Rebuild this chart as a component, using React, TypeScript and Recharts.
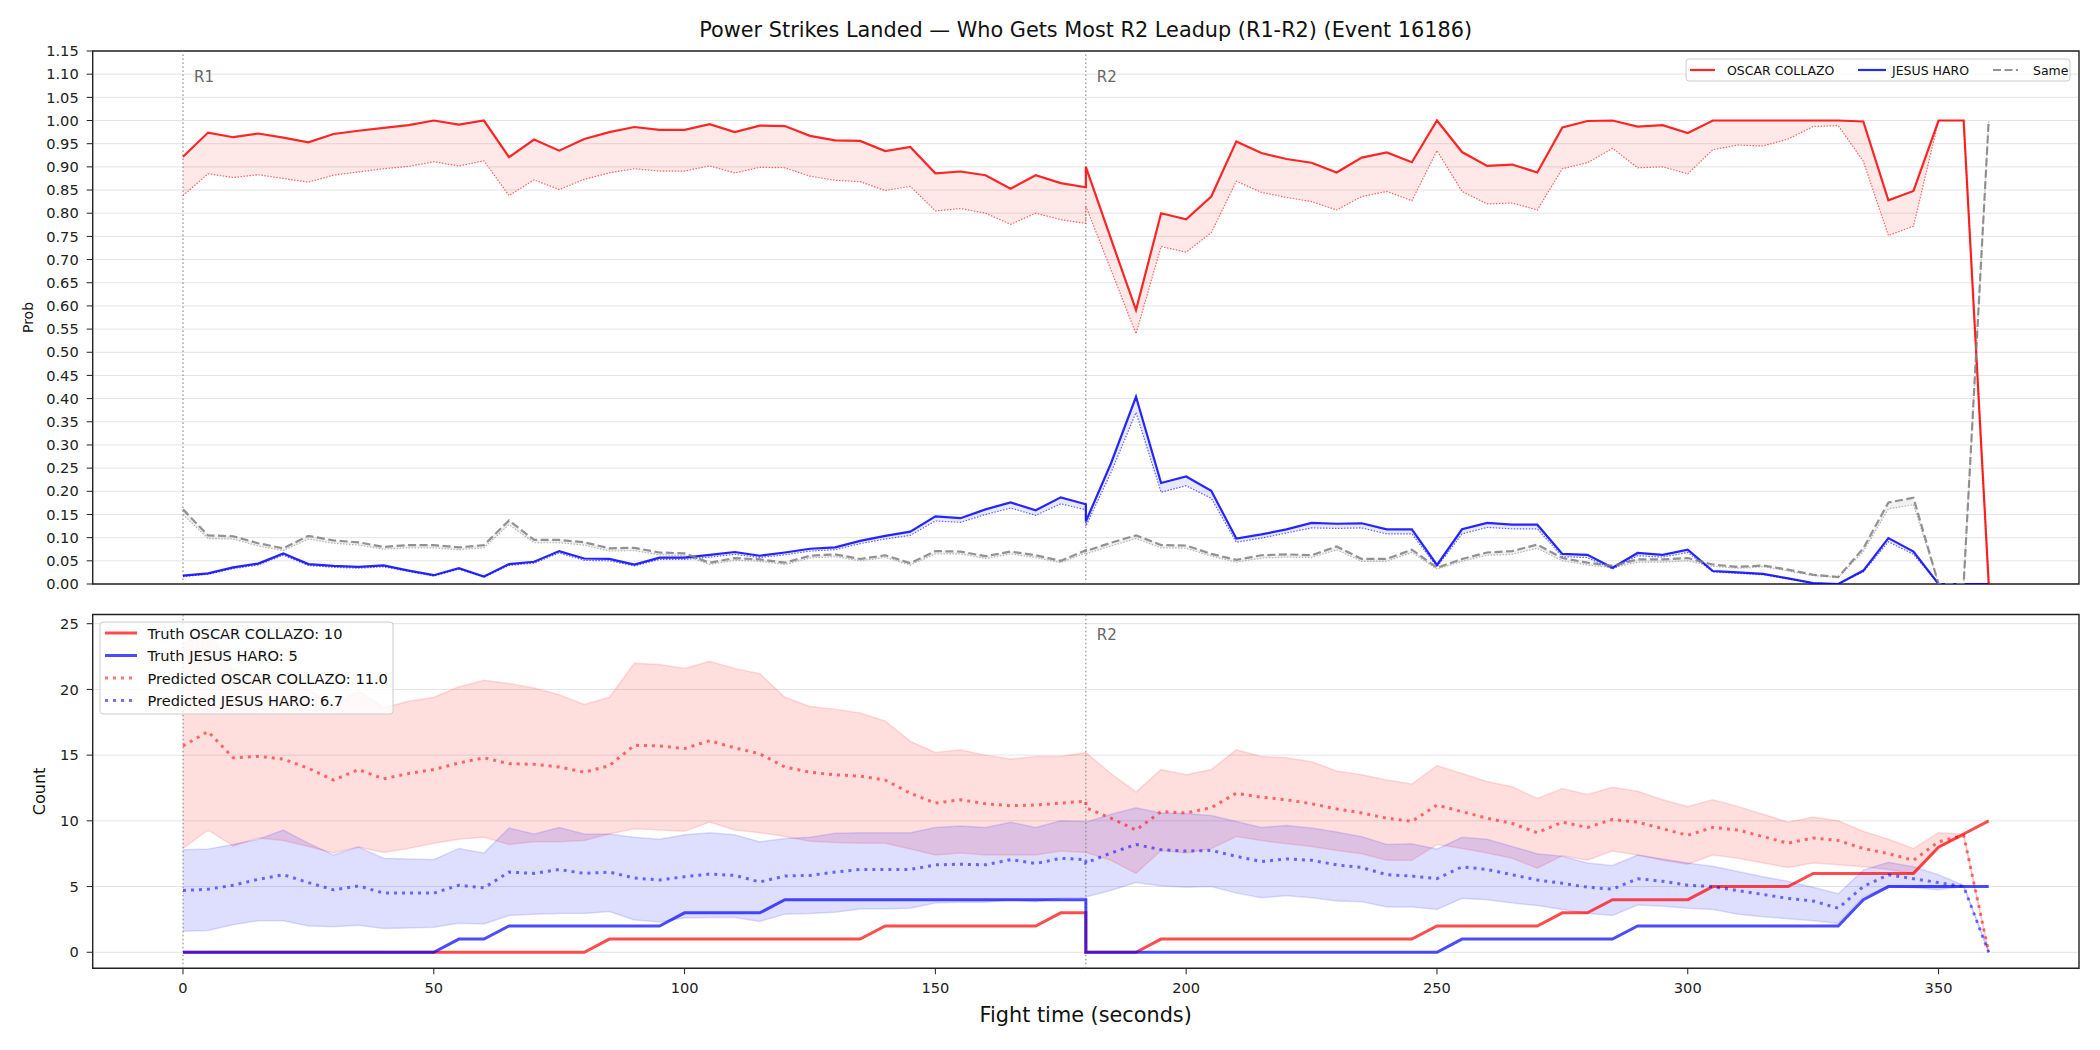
import React from "react";
import {
  ComposedChart,
  Line,
  Area,
  XAxis,
  YAxis,
  CartesianGrid,
  ReferenceLine,
  ReferenceArea,
} from "recharts";

const FONT = "DejaVu Sans, Verdana, sans-serif";

// sample times in seconds; 180 is listed twice (end of R1, start of R2)
const TIME = [
  0, 5, 10, 15, 20, 25, 30, 35, 40, 45, 50, 55, 60, 65, 70, 75, 80, 85, 90, 95,
  100, 105, 110, 115, 120, 125, 130, 135, 140, 145, 150, 155, 160, 165, 170, 175, 180,
  180, 185, 190, 195, 200, 205, 210, 215, 220, 225, 230, 235, 240, 245, 250, 255,
  260, 265, 270, 275, 280, 285, 290, 295, 300, 305, 310, 315, 320, 325, 330, 335,
  340, 345, 350, 355, 360,
];

const TIME_TICKS = [0, 50, 100, 150, 200, 250, 300, 350];
const PROB_TICKS = [
  0, 0.05, 0.1, 0.15, 0.2, 0.25, 0.3, 0.35, 0.4, 0.45, 0.5, 0.55, 0.6, 0.65, 0.7,
  0.75, 0.8, 0.85, 0.9, 0.95, 1.0, 1.05, 1.1, 1.15,
];
const COUNT_TICKS = [0, 5, 10, 15, 20, 25];

// win probability per fighter (solid) and lower bound (dotted)
const OSCAR_P = [
  0.922, 0.974, 0.964, 0.972, 0.963, 0.953, 0.971, 0.978, 0.984, 0.99, 1.0, 0.991, 1.0,
  0.921, 0.959, 0.935, 0.96, 0.975, 0.986, 0.98, 0.98, 0.992, 0.975, 0.989, 0.988, 0.967,
  0.957, 0.956, 0.934, 0.943, 0.886, 0.89, 0.882, 0.853, 0.882, 0.865, 0.856,
  0.9, 0.745, 0.591, 0.8, 0.787, 0.836, 0.955, 0.93, 0.917, 0.909, 0.888, 0.92, 0.931,
  0.91, 1.0, 0.932, 0.902, 0.905, 0.888, 0.985, 0.999, 1.0, 0.987, 0.99, 0.973, 1.0, 1.0,
  1.0, 1.0, 1.0, 1.0, 0.998, 0.828, 0.848, 1.0, 1.0, 0,
];
const OSCAR_P_LO = [
  0.838, 0.885, 0.877, 0.883, 0.875, 0.867, 0.882, 0.889, 0.896, 0.901, 0.911, 0.902,
  0.913, 0.838, 0.872, 0.851, 0.873, 0.887, 0.896, 0.891, 0.891, 0.902, 0.887, 0.899,
  0.898, 0.88, 0.871, 0.868, 0.849, 0.858, 0.805, 0.81, 0.8, 0.776, 0.8, 0.786, 0.778,
  0.815, 0.678, 0.54, 0.728, 0.716, 0.758, 0.869, 0.845, 0.834, 0.825, 0.807, 0.836,
  0.847, 0.827, 0.935, 0.847, 0.82, 0.822, 0.807, 0.896, 0.909, 0.94, 0.898, 0.9, 0.885,
  0.937, 0.947, 0.945, 0.96, 0.987, 0.989, 0.912, 0.752, 0.772, 1.0, 1.0, 0,
];
const HARO_P = [
  0.018, 0.023, 0.036, 0.044, 0.066, 0.043, 0.039, 0.037, 0.04, 0.029, 0.019, 0.034,
  0.016, 0.043, 0.048, 0.071, 0.055, 0.054, 0.042, 0.057, 0.057, 0.063, 0.069, 0.061,
  0.068, 0.076, 0.079, 0.093, 0.104, 0.113, 0.146, 0.142, 0.161, 0.176, 0.159, 0.187, 0.172,
  0.135, 0.26, 0.404, 0.218, 0.232, 0.201, 0.098, 0.107, 0.118, 0.132, 0.13, 0.131, 0.118,
  0.118, 0.041, 0.118, 0.132, 0.128, 0.128, 0.065, 0.063, 0.035, 0.067, 0.063, 0.074,
  0.028, 0.025, 0.022, 0.012, 0.002, 0, 0.029, 0.099, 0.07, 0, 0, 0,
];
const HARO_P_LO = [
  0.016, 0.021, 0.033, 0.041, 0.062, 0.04, 0.036, 0.034, 0.037, 0.027, 0.017, 0.032,
  0.015, 0.04, 0.045, 0.067, 0.051, 0.05, 0.039, 0.053, 0.053, 0.058, 0.064, 0.057,
  0.063, 0.071, 0.074, 0.087, 0.097, 0.105, 0.136, 0.133, 0.15, 0.164, 0.148, 0.173, 0.16,
  0.125, 0.24, 0.37, 0.198, 0.212, 0.185, 0.09, 0.099, 0.11, 0.121, 0.12, 0.121, 0.108,
  0.108, 0.037, 0.108, 0.122, 0.119, 0.119, 0.059, 0.057, 0.032, 0.061, 0.058, 0.068,
  0.026, 0.023, 0.02, 0.011, 0.002, 0, 0.026, 0.091, 0.064, 0, 0, 0,
];
const SAME_P = [
  0.161, 0.105, 0.103, 0.088, 0.077, 0.104, 0.094, 0.09, 0.08, 0.084, 0.084, 0.079,
  0.084, 0.137, 0.095, 0.095, 0.09, 0.077, 0.078, 0.068, 0.066, 0.046, 0.056, 0.053,
  0.046, 0.061, 0.064, 0.054, 0.062, 0.045, 0.071, 0.07, 0.06, 0.07, 0.062, 0.05, 0.073,
  0.071, 0.089, 0.105, 0.084, 0.083, 0.065, 0.052, 0.062, 0.064, 0.062, 0.081, 0.054,
  0.054, 0.074, 0.035, 0.054, 0.068, 0.071, 0.085, 0.056, 0.046, 0.039, 0.053, 0.053,
  0.056, 0.042, 0.037, 0.04, 0.031, 0.02, 0.015, 0.077, 0.176, 0.186, 0, 0, 1.0,
];
const SAME_P_LO = [
  0.15, 0.098, 0.097, 0.082, 0.072, 0.097, 0.088, 0.084, 0.075, 0.078, 0.078, 0.074,
  0.078, 0.128, 0.089, 0.089, 0.084, 0.071, 0.072, 0.063, 0.061, 0.042, 0.051, 0.049,
  0.042, 0.056, 0.059, 0.05, 0.057, 0.041, 0.065, 0.065, 0.055, 0.065, 0.057, 0.046, 0.067,
  0.065, 0.082, 0.098, 0.078, 0.077, 0.06, 0.047, 0.056, 0.058, 0.057, 0.074, 0.049,
  0.049, 0.068, 0.032, 0.049, 0.062, 0.064, 0.077, 0.05, 0.041, 0.035, 0.047, 0.047,
  0.05, 0.038, 0.034, 0.037, 0.028, 0.018, 0.014, 0.07, 0.162, 0.171, 0, 0, 1.0,
];

// cumulative power strikes: observed and predicted (mean with band)
const TRUTH_OSCAR = [
  0, 0, 0, 0, 0, 0, 0, 0, 0, 0, 0, 0, 0, 0, 0, 0, 0, 1, 1, 1, 1, 1, 1, 1, 1, 1, 1, 1,
  2, 2, 2, 2, 2, 2, 2, 3, 3,
  0, 0, 0, 1, 1, 1, 1, 1, 1, 1, 1, 1, 1, 1, 2, 2, 2, 2, 2, 3, 3, 4, 4, 4, 4, 5, 5, 5, 5,
  6, 6, 6, 6, 6, 8, 9, 10,
];
const TRUTH_HARO = [
  0, 0, 0, 0, 0, 0, 0, 0, 0, 0, 0, 1, 1, 2, 2, 2, 2, 2, 2, 2, 3, 3, 3, 3, 4, 4, 4, 4,
  4, 4, 4, 4, 4, 4, 4, 4, 4,
  0, 0, 0, 0, 0, 0, 0, 0, 0, 0, 0, 0, 0, 0, 0, 1, 1, 1, 1, 1, 1, 1, 2, 2, 2, 2, 2, 2, 2,
  2, 2, 4, 5, 5, 5, 5, 5,
];
const PRED_OSCAR = [
  15.7, 16.8, 14.8, 14.9, 14.7, 14.0, 13.1, 13.9, 13.2, 13.6, 13.9, 14.4, 14.8, 14.35,
  14.3, 14.1, 13.7, 14.2, 15.75, 15.7, 15.5, 16.1, 15.55, 15.1, 14.1, 13.7, 13.5, 13.4,
  13.1, 12.1, 11.35, 11.6, 11.3, 11.15, 11.2, 11.35, 11.5,
  11.0, 10.2, 9.3, 10.7, 10.6, 11.0, 12.1, 11.8, 11.6, 11.3, 10.9, 10.6, 10.2, 9.96,
  11.2, 10.7, 10.2, 9.8, 9.1, 9.9, 9.5, 10.1, 9.9, 9.4, 8.9, 9.5, 9.3, 8.8, 8.3, 8.7,
  8.5, 7.9, 7.5, 7.0, 8.4, 8.9, 0,
];
const PRED_OSCAR_HI = [
  23.5, 24.4, 21.5, 21.1, 20.9, 20.0, 18.7, 19.9, 18.6, 19.1, 19.4, 20.2, 20.7, 20.45,
  20.1, 19.6, 18.85, 19.4, 22.0, 21.9, 21.6, 22.15, 21.6, 21.2, 19.4, 18.7, 18.5, 18.2,
  17.6, 16.05, 15.2, 15.4, 15.0, 14.7, 14.9, 14.9, 15.2,
  15.2, 13.6, 12.2, 13.9, 13.5, 13.9, 15.4, 14.9, 14.8, 14.5, 13.8, 13.5, 13.1, 12.8,
  14.2, 13.6, 13.0, 12.6, 11.7, 12.45, 12.0, 12.55, 12.25, 11.6, 11.1, 11.6, 11.1, 10.5,
  9.9, 10.3, 10.0, 9.2, 8.6, 7.9, 9.1, 9.0, 0,
];
const PRED_OSCAR_LO = [
  7.9, 9.3, 8.1, 8.7, 8.5, 8.05, 7.55, 8.0, 7.6, 7.9, 8.3, 8.6, 8.75, 8.2, 8.4, 8.4, 8.5,
  9.0, 9.4, 9.3, 9.2, 9.9, 9.3, 9.1, 8.8, 8.45, 8.35, 8.3, 8.3, 7.85, 7.4, 7.55, 7.4,
  7.4, 7.4, 7.7, 7.6,
  7.6, 7.0, 6.0, 7.75, 7.55, 7.9, 8.8, 8.5, 8.25, 8.05, 7.75, 7.5, 7.0, 7.0, 8.2, 7.9,
  7.55, 7.15, 6.4, 7.35, 7.0, 7.7, 7.4, 7.0, 6.7, 7.4, 7.15, 6.8, 6.45, 6.8, 6.65, 6.5,
  6.3, 6.0, 8.0, 8.85, 0,
];
const PRED_HARO = [
  4.7, 4.8, 5.1, 5.55, 5.9, 5.3, 4.75, 5.05, 4.5, 4.5, 4.5, 5.1, 4.9, 6.1, 6.0, 6.3, 6.0,
  6.1, 5.65, 5.5, 5.75, 5.95, 5.85, 5.35, 5.8, 5.85, 6.1, 6.3, 6.3, 6.3, 6.65, 6.7, 6.65,
  7.05, 6.75, 7.15, 7.05,
  6.8, 7.55, 8.2, 7.8, 7.7, 7.75, 7.3, 6.9, 7.1, 7.0, 6.65, 6.45, 5.9, 5.8, 5.6, 6.5, 6.3,
  5.9, 5.5, 5.25, 4.95, 4.8, 5.6, 5.4, 5.1, 5.0, 4.7, 4.4, 4.1, 3.9, 3.35, 5.0, 5.9, 5.6,
  5.3, 5.0, 0,
];
const PRED_HARO_HI = [
  7.8, 7.85, 8.2, 8.6, 9.3, 8.3, 7.4, 8.0, 7.15, 7.1, 7.05, 7.9, 7.55, 9.45, 9.0, 9.5,
  9.0, 9.0, 8.75, 8.6, 8.95, 9.1, 8.95, 8.4, 8.65, 8.75, 9.05, 9.1, 9.1, 9.1, 9.5, 9.6,
  9.5, 9.9, 9.5, 10.0, 9.95,
  9.9, 10.5, 11.0, 10.6, 10.55, 10.4, 9.95, 9.5, 9.65, 9.45, 9.15, 8.8, 8.2, 8.25, 7.85,
  8.75, 8.6, 8.05, 7.5, 7.3, 6.8, 6.6, 7.4, 7.1, 6.8, 6.55, 6.15, 5.75, 5.4, 4.95, 4.45,
  6.25, 6.85, 6.5, 5.9, 5.1, 0,
];
const PRED_HARO_LO = [
  1.6, 1.65, 2.1, 2.4, 2.4, 2.0, 1.95, 2.05, 1.8, 1.85, 1.9, 2.2, 2.15, 2.8, 2.9, 2.95,
  2.95, 3.1, 2.45, 2.3, 2.6, 2.65, 2.65, 2.35, 2.9, 2.95, 3.05, 3.3, 3.3, 3.35, 3.75, 3.8,
  3.8, 4.0, 3.85, 4.15, 4.15,
  4.2, 4.7, 5.3, 5.05, 4.95, 5.0, 4.5, 4.15, 4.3, 4.15, 3.9, 3.85, 3.45, 3.45, 3.25, 4.1,
  4.0, 3.75, 3.55, 3.25, 2.95, 2.8, 3.6, 3.5, 3.35, 3.25, 2.9, 2.7, 2.55, 2.4, 2.2, 4.2,
  5.0, 4.9, 4.75, 5.0, 0,
];

const probRows = TIME.map((t, i) => ({
  t,
  oscar: OSCAR_P[i],
  oscarLo: OSCAR_P_LO[i],
  oscarBand: [OSCAR_P_LO[i], OSCAR_P[i]],
  haro: HARO_P[i],
  haroLo: HARO_P_LO[i],
  haroBand: [HARO_P_LO[i], HARO_P[i]],
  same: SAME_P[i],
  sameLo: SAME_P_LO[i],
  sameBand: [SAME_P_LO[i], SAME_P[i]],
}));

const countRows = TIME.map((t, i) => ({
  t,
  truthOscar: TRUTH_OSCAR[i],
  truthHaro: TRUTH_HARO[i],
  predOscar: PRED_OSCAR[i],
  predHaro: PRED_HARO[i],
  oscarBand: [PRED_OSCAR_LO[i], PRED_OSCAR_HI[i]],
  haroBand: [PRED_HARO_LO[i], PRED_HARO_HI[i]],
}));

const X_DOMAIN = [-18, 378];
const AXIS_COLOR = "#222";
const tickStyle = { fontSize: 14.6, fill: AXIS_COLOR, fontFamily: FONT };

const roundLabel = (text: string, dy: number) => (props: any) => {
  const vb = props.viewBox || { x: 0, y: 0 };
  return (
    <text
      x={vb.x + 11}
      y={vb.y + dy}
      fill="#666"
      fontSize={15}
      fontFamily={FONT}
      dominantBaseline="central"
    >
      {text}
    </text>
  );
};

const ProbPanel = () => (
  <ComposedChart
    width={2100}
    height={600}
    data={probRows}
    margin={{ top: 51, right: 21, bottom: 0, left: 0 }}
  >
    <CartesianGrid vertical={false} stroke="#e4e4e4" />
    <XAxis
      dataKey="t"
      type="number"
      domain={X_DOMAIN}
      ticks={TIME_TICKS}
      allowDataOverflow
      tick={false}
      tickSize={6}
      tickLine={{ stroke: AXIS_COLOR }}
      axisLine={false}
      height={16}
    />
    <YAxis
      type="number"
      domain={[0, 1.15]}
      ticks={PROB_TICKS}
      interval={0}
      allowDataOverflow
      tickFormatter={(v: number) => v.toFixed(2)}
      tick={tickStyle}
      tickSize={6}
      tickMargin={8}
      tickLine={{ stroke: AXIS_COLOR }}
      axisLine={false}
      width={92.7}
    />
    <Area dataKey="oscarBand" type="linear" stroke="none" fill="#ff0000" fillOpacity={0.09} isAnimationActive={false} />
    <Area dataKey="haroBand" type="linear" stroke="none" fill="#0000ff" fillOpacity={0.09} isAnimationActive={false} />
    <Area dataKey="sameBand" type="linear" stroke="none" fill="#808080" fillOpacity={0.12} isAnimationActive={false} />
    <ReferenceLine x={0} stroke="#777" strokeDasharray="1.5 2.5" label={roundLabel("R1", 26)} />
    <ReferenceLine x={180} stroke="#777" strokeDasharray="1.5 2.5" label={roundLabel("R2", 26)} />
    <Line dataKey="oscarLo" type="linear" stroke="#ff0000" strokeOpacity={0.6} strokeWidth={1.2} strokeDasharray="1.5 1.5" dot={false} activeDot={false} isAnimationActive={false} />
    <Line dataKey="haroLo" type="linear" stroke="#0000ff" strokeOpacity={0.6} strokeWidth={1.2} strokeDasharray="1.5 1.5" dot={false} activeDot={false} isAnimationActive={false} />
    <Line dataKey="sameLo" type="linear" stroke="#999" strokeOpacity={0.7} strokeWidth={1.2} strokeDasharray="1.5 1.5" dot={false} activeDot={false} isAnimationActive={false} />
    <Line dataKey="oscar" type="linear" stroke="#ff0000" strokeOpacity={0.85} strokeWidth={2.2} dot={false} activeDot={false} isAnimationActive={false} />
    <Line dataKey="haro" type="linear" stroke="#0000ff" strokeOpacity={0.85} strokeWidth={2.2} dot={false} activeDot={false} isAnimationActive={false} />
    <Line dataKey="same" type="linear" stroke="#808080" strokeOpacity={0.85} strokeWidth={2.2} strokeDasharray="8 3.5" dot={false} activeDot={false} isAnimationActive={false} />
    <ReferenceArea x1={X_DOMAIN[0]} x2={X_DOMAIN[1]} y1={0} y2={1.15} fill="none" stroke={AXIS_COLOR} strokeWidth={1.4} />
  </ComposedChart>
);

const CountPanel = () => (
  <ComposedChart
    width={2100}
    height={450}
    data={countRows}
    margin={{ top: 14.5, right: 21, bottom: 0, left: 0 }}
  >
    <CartesianGrid vertical={false} stroke="#e4e4e4" />
    <XAxis
      dataKey="t"
      type="number"
      domain={X_DOMAIN}
      ticks={TIME_TICKS}
      allowDataOverflow
      tick={tickStyle}
      tickSize={6}
      tickMargin={8}
      tickLine={{ stroke: AXIS_COLOR }}
      axisLine={false}
      height={81.7}
    />
    <YAxis
      type="number"
      domain={[-1.22, 25.7]}
      ticks={COUNT_TICKS}
      interval={0}
      allowDataOverflow
      tick={tickStyle}
      tickSize={6}
      tickMargin={8}
      tickLine={{ stroke: AXIS_COLOR }}
      axisLine={false}
      width={92.7}
    />
    <Area dataKey="oscarBand" type="linear" stroke="#ff0000" strokeOpacity={0.12} strokeWidth={1.5} fill="#ff0000" fillOpacity={0.13} isAnimationActive={false} />
    <Area dataKey="haroBand" type="linear" stroke="#0000ff" strokeOpacity={0.12} strokeWidth={1.5} fill="#0000ff" fillOpacity={0.13} isAnimationActive={false} />
    <ReferenceLine x={0} stroke="#777" strokeDasharray="1.5 2.5" />
    <ReferenceLine x={180} stroke="#777" strokeDasharray="1.5 2.5" label={roundLabel("R2", 20)} />
    <Line dataKey="truthOscar" type="linear" stroke="#ff0000" strokeOpacity={0.7} strokeWidth={3} dot={false} activeDot={false} isAnimationActive={false} />
    <Line dataKey="truthHaro" type="linear" stroke="#0000ff" strokeOpacity={0.7} strokeWidth={3} dot={false} activeDot={false} isAnimationActive={false} />
    <Line dataKey="predOscar" type="linear" stroke="#ff0000" strokeOpacity={0.55} strokeWidth={3} strokeDasharray="3 5" dot={false} activeDot={false} isAnimationActive={false} />
    <Line dataKey="predHaro" type="linear" stroke="#0000ff" strokeOpacity={0.55} strokeWidth={3} strokeDasharray="3 5" dot={false} activeDot={false} isAnimationActive={false} />
    <ReferenceArea x1={X_DOMAIN[0]} x2={X_DOMAIN[1]} y1={-1.22} y2={25.7} fill="none" stroke={AXIS_COLOR} strokeWidth={1.4} />
  </ComposedChart>
);

// titles, axis captions and both legends
const Annotations = () => (
  <svg
    width={2100}
    height={1050}
    style={{ position: "absolute", left: 0, top: 0, pointerEvents: "none" }}
    fontFamily={FONT}
  >
    <text x={1085.7} y={29.5} fontSize={20.8} fill="#111" textAnchor="middle" dominantBaseline="central">
      Power Strikes Landed — Who Gets Most R2 Leadup (R1-R2) (Event 16186)
    </text>
    <text x={1085.7} y={1015} fontSize={20.8} fill="#111" textAnchor="middle" dominantBaseline="central">
      Fight time (seconds)
    </text>
    <text x={28} y={317.5} fontSize={14} fill="#111" textAnchor="middle" dominantBaseline="central" transform="rotate(-90 28 317.5)">
      Prob
    </text>
    <text x={40} y={791.4} fontSize={16} fill="#111" textAnchor="middle" dominantBaseline="central" transform="rotate(-90 40 791.4)">
      Count
    </text>

    <g fontSize={12.5} fill="#111">
      <rect x={1686} y={59} width={384} height={22} rx={3} fill="#fff" fillOpacity={0.8} stroke="#ccc" />
      <line x1={1690} x2={1715} y1={70} y2={70} stroke="#ff0000" strokeOpacity={0.85} strokeWidth={2.2} />
      <text x={1727} y={70} dominantBaseline="central">OSCAR COLLAZO</text>
      <line x1={1858} x2={1886} y1={70} y2={70} stroke="#0000ff" strokeOpacity={0.85} strokeWidth={2.2} />
      <text x={1892} y={70} dominantBaseline="central">JESUS HARO</text>
      <line x1={1993} x2={2018} y1={70} y2={70} stroke="#808080" strokeOpacity={0.85} strokeWidth={2.2} strokeDasharray="8 3.5" />
      <text x={2033} y={70} dominantBaseline="central">Same</text>
    </g>

    <g fontSize={14.6} fill="#111">
      <rect x={100} y={622} width={293} height={92} rx={3} fill="#fff" fillOpacity={0.8} stroke="#ccc" />
      <line x1={105} x2={137} y1={633} y2={633} stroke="#ff0000" strokeOpacity={0.7} strokeWidth={3} />
      <text x={147.5} y={633} dominantBaseline="central">Truth OSCAR COLLAZO: 10</text>
      <line x1={105} x2={137} y1={655.5} y2={655.5} stroke="#0000ff" strokeOpacity={0.7} strokeWidth={3} />
      <text x={147.5} y={655.5} dominantBaseline="central">Truth JESUS HARO: 5</text>
      <line x1={105} x2={137} y1={678} y2={678} stroke="#ff0000" strokeOpacity={0.55} strokeWidth={3} strokeDasharray="3 5" />
      <text x={147.5} y={678} dominantBaseline="central">Predicted OSCAR COLLAZO: 11.0</text>
      <line x1={105} x2={137} y1={700.5} y2={700.5} stroke="#0000ff" strokeOpacity={0.55} strokeWidth={3} strokeDasharray="3 5" />
      <text x={147.5} y={700.5} dominantBaseline="central">Predicted JESUS HARO: 6.7</text>
    </g>
  </svg>
);

export default function App() {
  return (
    <div
      style={{
        position: "absolute",
        left: 0,
        top: 0,
        width: 2100,
        height: 1050,
        background: "#fff",
        fontFamily: FONT,
        overflow: "hidden",
      }}
    >
      <div style={{ position: "absolute", left: 0, top: 0 }}>
        <ProbPanel />
      </div>
      <div style={{ position: "absolute", left: 0, top: 600 }}>
        <CountPanel />
      </div>
      <Annotations />
    </div>
  );
}
